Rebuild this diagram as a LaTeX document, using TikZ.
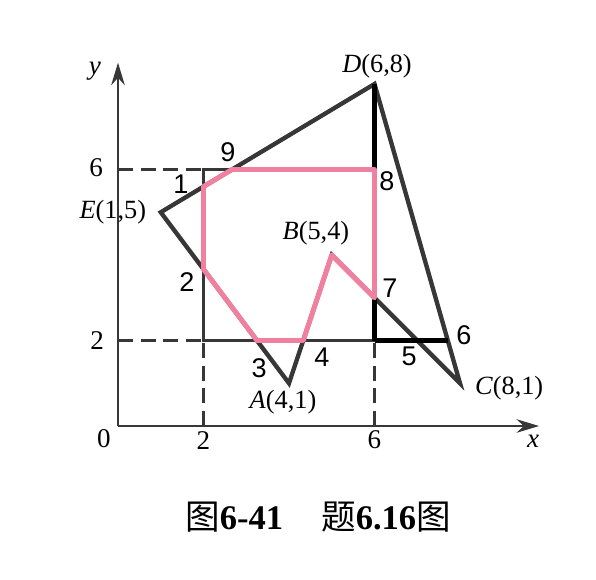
\documentclass[tikz,border=0pt]{standalone}
\usepackage{fontspec}
\setmainfont{Liberation Serif}
\newfontfamily\cjk{Noto Sans CJK SC}
\newfontfamily\numfont{Liberation Sans}
\usetikzlibrary{arrows.meta}
\definecolor{polyc}{RGB}{55,55,55}
\definecolor{pinkc}{RGB}{240,128,160}
\tikzset{
  axisline/.style={line width=1.7pt, draw=polyc, -{Stealth[length=15pt,width=9pt]}},
  dashline/.style={line width=1.7pt, draw=polyc, dash pattern=on 10pt off 5pt},
  winline/.style={line width=2.6pt, draw=polyc},
  polyline/.style={line width=2.9pt, draw=polyc, line join=miter},
  blackline/.style={line width=3.2pt, draw=black},
  clipline/.style={line width=3.3pt, draw=pinkc, line join=round},
  ptlabel/.style={font=\fontsize{17.5}{20}\selectfont, inner sep=0pt},
  numlabel/.style={font=\numfont\fontsize{18}{21}\selectfont, inner sep=0pt},
  ticklabel/.style={font=\fontsize{18}{21}\selectfont, inner sep=0pt}
}
\begin{document}
\begin{tikzpicture}[x=1cm,y=1cm]
\useasboundingbox (-2.760,-3.579) rectangle (11.181,9.965);
% coordinates
\coordinate (O) at (0,0);
\coordinate (Ytip) at (0,8.5);
\coordinate (Xtip) at (9.85,0);
\coordinate (A) at (4,1);
\coordinate (B) at (5,4);
\coordinate (C) at (8,1);
\coordinate (D) at (6,8);
\coordinate (E) at (1,5);
\coordinate (W1) at (2,2);
\coordinate (W2) at (6,2);
\coordinate (W3) at (6,6);
\coordinate (W4) at (2,6);
\coordinate (Y6) at (0,6);
\coordinate (Y2) at (0,2);
\coordinate (X2) at (2,0);
\coordinate (X6) at (6,0);
\coordinate (P1) at (2,5.6);
\coordinate (P2) at (2,3.6667);
\coordinate (P3) at (3.25,2);
\coordinate (P4) at (4.3333,2);
\coordinate (P5) at (7,2);
\coordinate (P6) at (7.7143,2);
\coordinate (P7) at (6,3);
\coordinate (P8) at (6,6);
\coordinate (P9) at (2.6667,6);
% dashed guides
\draw[dashline] (Y6) -- (W4);
\draw[dashline] (Y2) -- (W1);
\draw[dashline] (X2) -- (W1);
\draw[dashline] (X6) -- (W2);
% axes
\draw[axisline] (O) -- (Ytip);
\draw[axisline] (O) -- (Xtip);
% window
\draw[winline] (W1) -- (W2) -- (W3) -- (W4) -- cycle;
% polygon
\draw[polyline] (A) -- (B) -- (C) -- (D) -- (E) -- cycle;
% black thick parts
\draw[blackline] (D) -- (W3);
\draw[blackline] (W2) -- (P6);
\draw[blackline] (W2) -- (P7);
% clipped polygon
\draw[clipline] (P1) -- (P9) -- (P8) -- (P7) -- (B) -- (P4) -- (P3) -- (P2) -- cycle;
% labels
\node[ptlabel] (lE) at (-0.12,5.0) {\textit{E}(1,5)};
\node[ptlabel] (lD) at (6.06,8.42) {\textit{D}(6,8)};
\node[ptlabel] (lB) at (4.63,4.51) {\textit{B}(5,4)};
\node[ptlabel] (lA) at (3.86,0.56) {\textit{A}(4,1)};
\node[ptlabel] (lC) at (9.15,0.89) {\textit{C}(8,1)};
\node[ticklabel] (ly) at (-0.54,8.3) {\textit{y}};
\node[ticklabel] (lx) at (9.71,-0.36) {\textit{x}};
\node[ticklabel] (l0) at (-0.33,-0.3) {0};
\node[ticklabel] (lx2) at (2,-0.33) {2};
\node[ticklabel] (lx6) at (6,-0.33) {6};
\node[ticklabel] (ly6) at (-0.51,6.04) {6};
\node[ticklabel] (ly2) at (-0.49,2.01) {2};
\node[numlabel] (n1) at (1.47,5.66) {1};
\node[numlabel] (n2) at (1.61,3.37) {2};
\node[numlabel] (n3) at (3.30,1.36) {3};
\node[numlabel] (n4) at (4.77,1.61) {4};
\node[numlabel] (n5) at (6.81,1.64) {5};
\node[numlabel] (n6) at (8.09,2.13) {6};
\node[numlabel] (n7) at (6.36,3.23) {7};
\node[numlabel] (n8) at (6.29,5.73) {8};
\node[numlabel] (n9) at (2.57,6.41) {9};
\node[font=\fontsize{23}{26}\selectfont, inner sep=0pt] (cap) at (4.68,-2.13)
  {{\cjk 图}\textbf{6-41}\hspace{1.1em}{\cjk 题}\textbf{6.16}{\cjk 图}};
\end{tikzpicture}
\end{document}
